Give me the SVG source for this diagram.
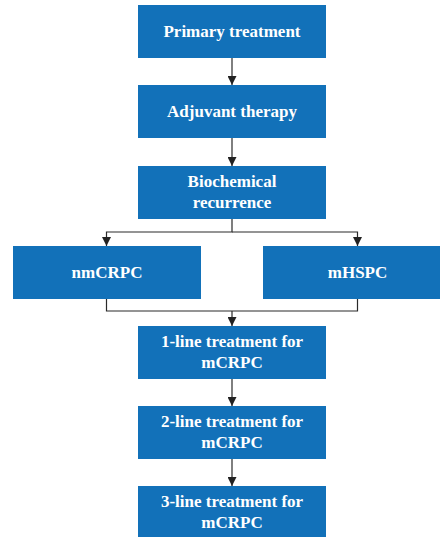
<svg xmlns="http://www.w3.org/2000/svg" width="440" height="537" viewBox="0 0 440 537">
<style>
.box{fill:#1271b9}
.t{fill:#ffffff;font-family:"Liberation Serif","Times New Roman",serif;font-weight:bold;font-size:17px;text-anchor:middle}
.c{fill:none;stroke:#2a2a2a;stroke-width:1.2}
</style>
<defs>
<marker id="ah" markerUnits="userSpaceOnUse" markerWidth="10" markerHeight="9" refX="9" refY="4.5" orient="auto">
<path d="M0,0 L9,4.5 L0,9 Z" fill="#222222"/>
</marker>
</defs>
<rect width="440" height="537" fill="#ffffff"/>
<g id="connectors">
<line class="c" x1="232" y1="58" x2="232" y2="85" marker-end="url(#ah)"/>
<line class="c" x1="232" y1="138" x2="232" y2="166" marker-end="url(#ah)"/>
<polyline class="c" points="232,219 232,232 106.5,232 106.5,246" marker-end="url(#ah)"/>
<polyline class="c" points="232,232 357.5,232 357.5,246" marker-end="url(#ah)"/>
<polyline class="c" points="106.5,299 106.5,311 357.5,311 357.5,299"/>
<line class="c" x1="232" y1="311" x2="232" y2="326" marker-end="url(#ah)"/>
<line class="c" x1="232" y1="379" x2="232" y2="406" marker-end="url(#ah)"/>
<line class="c" x1="232" y1="459" x2="232" y2="486" marker-end="url(#ah)"/>
</g>
<g id="primary">
<rect class="box" x="138" y="5" width="188" height="53"/>
<text class="t" x="232" y="37">Primary treatment</text>
</g>
<g id="adjuvant">
<rect class="box" x="138" y="85" width="188" height="53"/>
<text class="t" x="232" y="117">Adjuvant therapy</text>
</g>
<g id="biochemical">
<rect class="box" x="138" y="166" width="188" height="53"/>
<text class="t" x="232" y="187">Biochemical</text>
<text class="t" x="232" y="207.5">recurrence</text>
</g>
<g id="nmcrpc">
<rect class="box" x="13" y="246" width="188" height="53"/>
<text class="t" x="107" y="277.5">nmCRPC</text>
</g>
<g id="mhspc">
<rect class="box" x="263" y="246" width="177" height="53"/>
<text class="t" x="357.5" y="277.5">mHSPC</text>
</g>
<g id="line1">
<rect class="box" x="138" y="326" width="188" height="53"/>
<text class="t" x="232" y="347">1-line treatment for</text>
<text class="t" x="232" y="367.5">mCRPC</text>
</g>
<g id="line2">
<rect class="box" x="138" y="406" width="188" height="53"/>
<text class="t" x="232" y="427">2-line treatment for</text>
<text class="t" x="232" y="447.5">mCRPC</text>
</g>
<g id="line3">
<rect class="box" x="138" y="486" width="188" height="53"/>
<text class="t" x="232" y="507">3-line treatment for</text>
<text class="t" x="232" y="527.5">mCRPC</text>
</g>
</svg>
